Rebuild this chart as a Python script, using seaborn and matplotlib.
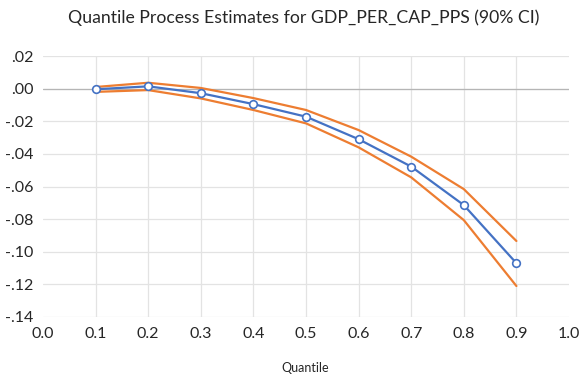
import pandas as pd
import seaborn as sns
import matplotlib.pyplot as plt
from matplotlib.ticker import FuncFormatter

quantiles = [0.1, 0.2, 0.3, 0.4, 0.5, 0.6, 0.7, 0.8, 0.9]
estimate = [-0.0004, 0.0014, -0.0028, -0.0095, -0.0172, -0.0310, -0.0478, -0.0714, -0.1070]
upper = [0.0010, 0.0036, 0.0004, -0.0058, -0.0131, -0.0254, -0.0417, -0.0616, -0.0934]
lower = [-0.0020, -0.0009, -0.0060, -0.0131, -0.0213, -0.0360, -0.0544, -0.0806, -0.1210]

sns.set_theme(style="white")
plt.rcParams['font.family'] = ['Lato', 'DejaVu Sans']

fig = plt.figure(figsize=(5.8, 3.76), dpi=100)
ax = fig.add_axes([43 / 580, 1 - 317 / 376, 526 / 580, 261 / 376])

df = pd.DataFrame({'q': quantiles, 'est': estimate, 'hi': upper, 'lo': lower})

# confidence band edges
sns.lineplot(data=df, x='q', y='hi', color='#ED7D31', lw=1.6, ax=ax)
sns.lineplot(data=df, x='q', y='lo', color='#ED7D31', lw=1.6, ax=ax)
sns.lineplot(data=df, x='q', y='est', color='#4472C4', lw=1.6, marker='o',
             markersize=5.5, markerfacecolor='white', markeredgecolor='#4472C4',
             markeredgewidth=1.2, ax=ax, zorder=5)

ax.set_xlim(0, 1)
ax.set_ylim(-0.14, 0.02)
ax.set_xticks([i / 10 for i in range(11)])
ax.set_yticks([-0.14 + 0.02 * i for i in range(9)])
ax.xaxis.set_major_formatter(FuncFormatter(lambda v, p: f"{v:.1f}"))
ax.yaxis.set_major_formatter(FuncFormatter(
    lambda v, p: ("-" if v < -1e-9 else "") + f"{abs(v):.2f}".lstrip("0")))
ax.tick_params(axis='both', labelsize=11.5, length=0, colors='#262626')
ax.tick_params(axis='y', pad=7)
ax.tick_params(axis='x', pad=7)

ax.grid(True, color='#e3e3e3', lw=0.9)
gl = ax.get_xgridlines()
gl[0].set_visible(False)
gl[-1].set_visible(False)
ax.axhline(0, color='#b5b5b5', lw=0.9, zorder=1)
for s in ax.spines.values():
    s.set_visible(False)

ax.set_xlabel('')
ax.set_ylabel('')
fig.text(305 / 580, 1 - 368 / 376, 'Quantile', fontsize=9, ha='center',
         va='center', color='#262626')
fig.suptitle('Quantile Process Estimates for GDP_PER_CAP_PPS (90% CI)',
             fontsize=12.7, x=303.5 / 580, y=1 - 18 / 376, va='center',
             color='#262626')

fig.savefig('out.png', dpi=100)
